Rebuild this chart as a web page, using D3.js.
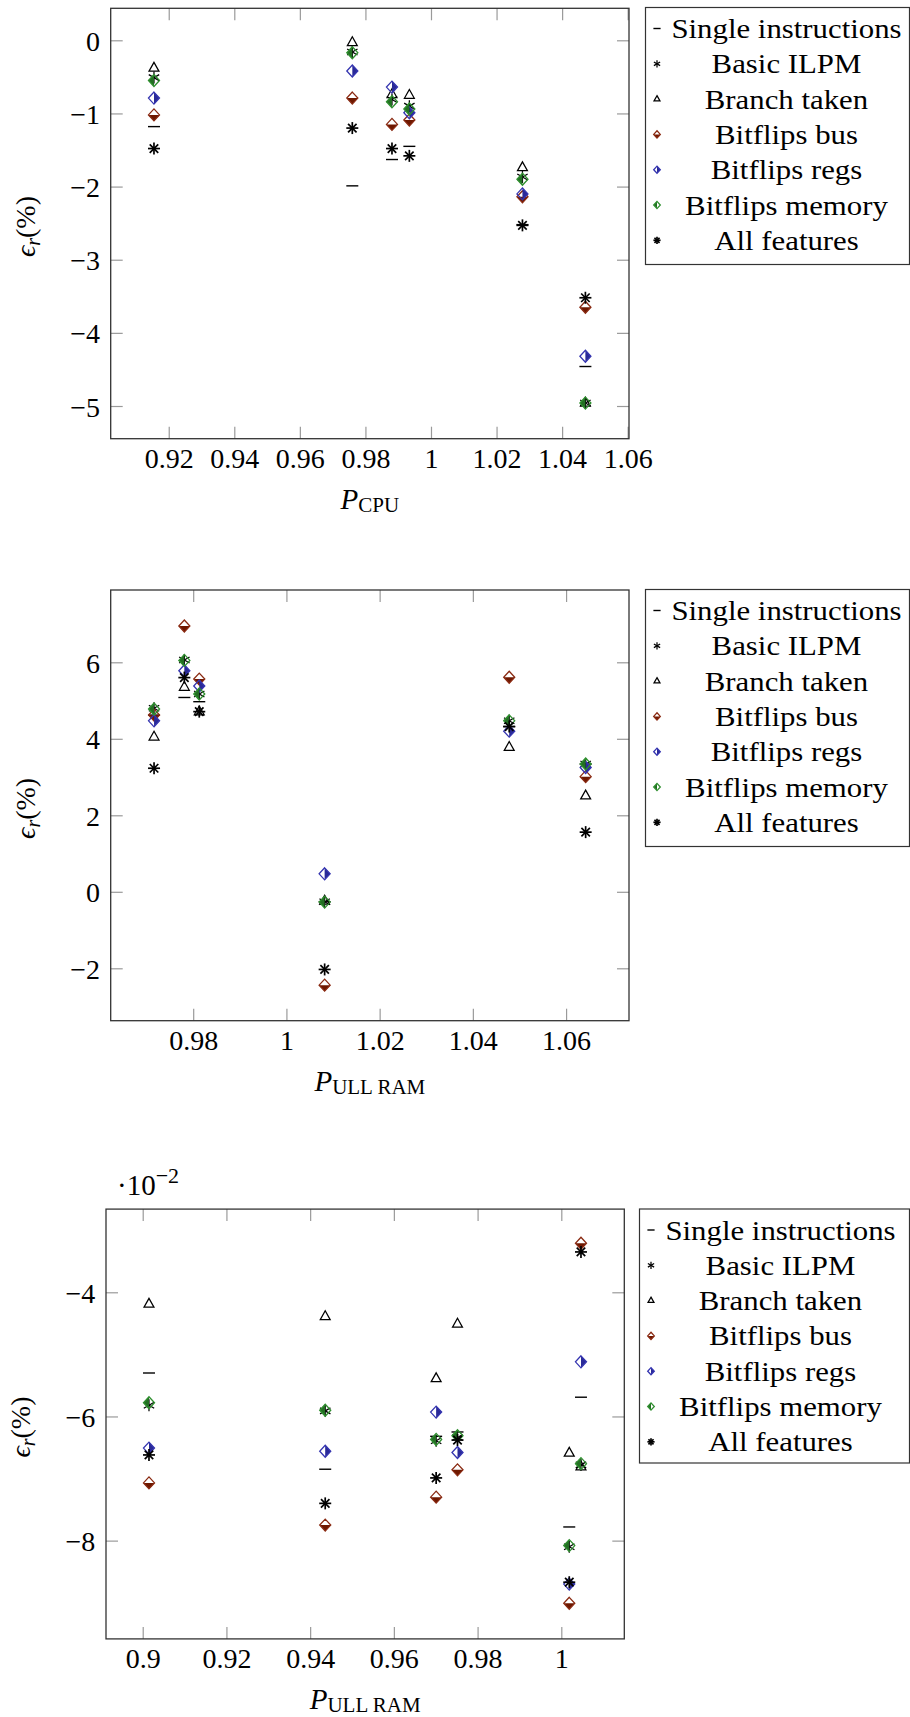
<!DOCTYPE html>
<html>
<head>
<meta charset="utf-8">
<script src="https://cdn.jsdelivr.net/npm/d3@7"></script>
<style>
  body { margin: 0; background: #fff; }
  svg { display: block; font-family: "Liberation Serif", "Times New Roman", serif; }
  text { font-family: "Liberation Serif", "Times New Roman", serif; fill: #000; }
</style>
</head>
<body>
<svg id="chart" width="910" height="1717"></svg>
<script>
// ---- series names (legend order = drawing order) ----
const seriesNames = ["Single instructions", "Basic ILPM", "Branch taken",
  "Bitflips bus", "Bitflips regs", "Bitflips memory", "All features"];

// ---- panel 1: relative error vs P_CPU (%) ----
const cpuP       = [0.9155, 0.9760, 0.9881, 0.9934, 1.0279, 1.0471];
const cpuSingle  = [-1.18, -1.99, -1.63, -1.45, -2.52, -4.46];
const cpuBasic   = [-0.51, -0.16, -0.81, -0.90, -1.87, -4.96];
const cpuBranch  = [-0.38, -0.03, -0.74, -0.75, -1.74, -4.96];
const cpuBus     = [-1.02, -0.79, -1.15, -1.09, -2.14, -3.65];
const cpuRegs    = [-0.79, -0.42, -0.64, -0.99, -2.10, -4.32];
const cpuMemory  = [-0.55, -0.17, -0.84, -0.94, -1.90, -4.96];
const cpuAll     = [-1.48, -1.20, -1.48, -1.58, -2.53, -3.52];
const cpuXTicks  = [0.92, 0.94, 0.96, 0.98, 1, 1.02, 1.04, 1.06];
const cpuYTicks  = [0, -1, -2, -3, -4, -5];

// ---- panel 2: relative error vs P_ULL RAM (%) ----
const ramP       = [0.9716, 0.9781, 0.9813, 1.0082, 1.0478, 1.0642];
const ramSingle  = [4.62, 5.08, 4.97, -0.26, 4.32, 3.34];
const ramBasic   = [4.80, 6.06, 5.17, -0.26, 4.47, 3.34];
const ramBranch  = [4.05, 5.35, 4.71, -0.24, 3.78, 2.51];
const ramBus     = [4.62, 6.95, 5.56, -2.44, 5.61, 3.01];
const ramRegs    = [4.47, 5.78, 5.38, 0.47, 4.20, 3.25];
const ramMemory  = [4.78, 6.05, 5.17, -0.27, 4.47, 3.34];
const ramAll     = [3.23, 5.60, 4.71, -2.03, 4.32, 1.56];
const ramXTicks  = [0.98, 1, 1.02, 1.04, 1.06];
const ramYTicks  = [-2, 0, 2, 4, 6];

// ---- panel 3: relative error vs P_ULL RAM, second benchmark (%) ----
const ram2P      = [0.9015, 0.9436, 0.9701, 0.9752, 1.0019, 1.0047];
const ram2Single = [-0.0530, -0.0685, -0.0632, -0.0625, -0.0778, -0.0569];
const ram2Basic  = [-0.0582, -0.0591, -0.0639, -0.0634, -0.0810, -0.0678];
const ram2Branch = [-0.0419, -0.0439, -0.0539, -0.0451, -0.0659, -0.0681];
const ram2Bus    = [-0.0707, -0.0775, -0.0730, -0.0686, -0.0901, -0.0321];
const ram2Regs   = [-0.0651, -0.0656, -0.0593, -0.0658, -0.0870, -0.0512];
const ram2Memory = [-0.0578, -0.0590, -0.0637, -0.0631, -0.0808, -0.0676];
const ram2All    = [-0.0662, -0.0740, -0.0699, -0.0638, -0.0867, -0.0335];
const ram2XTicks = [0.9, 0.92, 0.94, 0.96, 0.98, 1];
const ram2YTicks = [-0.08, -0.06, -0.04];

// ---- marker styles ----
const RED = "#8a2a12", RED_FILL = "#6e1800";
const BLUE = "#3535b0", BLUE_FILL = "#2a2a98";
const GREEN = "#2f8f2f", GREEN_FILL = "#236f23";
const markerKinds = ["dash", "asterisk", "triangle", "halfBottom", "halfRight", "halfLeft", "star"];
const SERIF = '"Liberation Serif", "Times New Roman", serif';
const WIDEN = 1.1;   // widen labels slightly toward a Computer Modern set width

const svg = d3.select("#chart");

function drawMarker(g, kind, s) {
  const r = 6 * s;
  if (kind === "dash") {
    g.append("line").attr("x1", -r).attr("x2", r).attr("y1", 0).attr("y2", 0)
      .attr("stroke", "#000").attr("stroke-width", 1.4);
  } else if (kind === "asterisk" || kind === "star") {
    const n = kind === "star" ? 4 : 3;
    for (let k = 0; k < n; k++) {
      const a = Math.PI / 2 + k * Math.PI / n;
      g.append("line")
        .attr("x1", r * Math.cos(a)).attr("y1", r * Math.sin(a))
        .attr("x2", -r * Math.cos(a)).attr("y2", -r * Math.sin(a))
        .attr("stroke", "#000").attr("stroke-width", kind === "star" ? 1.7 : 1.25);
    }
    if (kind === "star") g.append("circle").attr("r", 1.8 * s).attr("fill", "#000");
  } else if (kind === "triangle") {
    const t = r * 0.95;
    g.append("path")
      .attr("d", `M0,${-t}L${t * 0.87},${t * 0.55}L${-t * 0.87},${t * 0.55}Z`)
      .attr("fill", "none").attr("stroke", "#000").attr("stroke-width", 1.25);
  } else {
    const h = r * 1.0, w = r * 0.92;
    let col, fill, half;
    if (kind === "halfBottom") { col = RED; fill = RED_FILL; half = `M${-w},0L${w},0L0,${h}Z`; }
    if (kind === "halfRight")  { col = BLUE; fill = BLUE_FILL; half = `M0,${-h}L${w},0L0,${h}Z`; }
    if (kind === "halfLeft")   { col = GREEN; fill = GREEN_FILL; half = `M0,${-h}L${-w},0L0,${h}Z`; }
    g.append("path").attr("d", half).attr("fill", fill);
    g.append("path").attr("d", `M0,${-h}L${w},0L0,${h}L${-w},0Z`)
      .attr("fill", "none").attr("stroke", col).attr("stroke-width", 1.3);
  }
}

const fmtTick = d => String(+(+d).toFixed(4)).replace("-", "\u2212");

function widen(sel) {
  sel.each(function () {
    const w = this.getComputedTextLength();
    d3.select(this).attr("textLength", w * WIDEN).attr("lengthAdjust", "spacingAndGlyphs");
  });
}

function drawPanel(cfg, xs, seriesVals, xTicks, yTicks, yFmt) {
  const g = svg.append("g");
  const x = d3.scaleLinear().domain(cfg.xDomain).range([cfg.left, cfg.right]);
  const y = d3.scaleLinear().domain(cfg.yDomain).range([cfg.bottom, cfg.top]);
  const tickLen = 12;

  const styleAxis = sel => {
    sel.attr("font-family", null).attr("font-size", null);
    sel.select(".domain").remove();
    sel.selectAll(".tick line").attr("stroke", "#9a9a9a").attr("stroke-width", 1.2);
    sel.selectAll(".tick text").attr("fill", "#000")
      .style("font-family", SERIF).style("font-size", "28px");
  };

  // inward ticks on all four sides, labels only bottom and left
  const bottom = g.append("g").attr("transform", `translate(0,${cfg.bottom})`)
    .call(d3.axisBottom(x).tickValues(xTicks).tickSize(-tickLen).tickFormat(fmtTick));
  styleAxis(bottom);
  bottom.selectAll(".tick text").attr("y", 29.6).attr("dy", 0);

  const top = g.append("g").attr("transform", `translate(0,${cfg.top})`)
    .call(d3.axisTop(x).tickValues(xTicks).tickSize(-tickLen).tickFormat(""));
  styleAxis(top);

  const left = g.append("g").attr("transform", `translate(${cfg.left},0)`)
    .call(d3.axisLeft(y).tickValues(yTicks).tickSize(-tickLen).tickFormat(yFmt));
  styleAxis(left);
  left.selectAll(".tick text").attr("x", -10.7).attr("dy", 0).attr("y", 10).attr("text-anchor", "end");

  const right = g.append("g").attr("transform", `translate(${cfg.right},0)`)
    .call(d3.axisRight(y).tickValues(yTicks).tickSize(-tickLen).tickFormat(""));
  styleAxis(right);

  // frame
  g.append("rect").attr("x", cfg.left).attr("y", cfg.top)
    .attr("width", cfg.right - cfg.left).attr("height", cfg.bottom - cfg.top)
    .attr("fill", "none").attr("stroke", "#333").attr("stroke-width", 1.3);

  // marks, one series after the other
  seriesVals.forEach((vals, si) => {
    const sg = g.append("g").attr("class", "series");
    vals.forEach((v, i) => {
      const mg = sg.append("g").attr("transform", `translate(${x(xs[i])},${y(v)})`);
      drawMarker(mg, markerKinds[si], 1);
    });
  });

  // y label: epsilon_r (%)
  const cy = (cfg.top + cfg.bottom) / 2;
  const yl = g.append("text")
    .attr("transform", `translate(${cfg.left - 76},${cy + 3}) rotate(-90)`)
    .attr("text-anchor", "middle").style("font-size", "28px");
  yl.append("tspan").style("font-style", "italic").text("\u03F5");
  yl.append("tspan").style("font-style", "italic").style("font-size", "20px").attr("dy", 5).text("r");
  yl.append("tspan").attr("dy", -5).text("(%)");

  // x label: P with upright subscript
  const cx = (cfg.left + cfg.right) / 2;
  const xl = g.append("text").attr("x", cx).attr("y", cfg.bottom + 70)
    .attr("text-anchor", "middle").style("font-size", "29px");
  xl.append("tspan").style("font-style", "italic").text("P");
  xl.append("tspan").style("font-size", "21px").attr("dy", 3).text(cfg.sub);

  // legend
  const L = cfg.legend;
  const lg = svg.append("g");
  lg.append("rect").attr("x", L.x).attr("y", L.y).attr("width", L.w).attr("height", L.h)
    .attr("fill", "#fff").attr("stroke", "#333").attr("stroke-width", 1.2);
  seriesNames.forEach((name, i) => {
    const ry = L.y + 21 + i * 35.3;
    const mg = lg.append("g").attr("transform", `translate(${L.x + 11.5},${ry})`);
    drawMarker(mg, markerKinds[i], 0.6);
    lg.append("text").attr("x", L.x + L.textCx).attr("y", ry + 9.5)
      .attr("text-anchor", "middle").style("font-size", "28px").text(name)
      .call(widen);
  });
  return { x, y };
}

drawPanel(
  { left: 110.7, right: 629, top: 8.3, bottom: 438.7,
    xDomain: [0.9023, 1.0604], yDomain: [-5.447, 0.4375], sub: "CPU",
    legend: { x: 645.5, y: 7.5, w: 264, h: 257, textCx: 141 } },
  cpuP, [cpuSingle, cpuBasic, cpuBranch, cpuBus, cpuRegs, cpuMemory, cpuAll],
  cpuXTicks, cpuYTicks, fmtTick);

drawPanel(
  { left: 110.7, right: 629, top: 590, bottom: 1020.7,
    xDomain: [0.9623, 1.0735], yDomain: [-3.37, 7.89], sub: "ULL RAM",
    legend: { x: 645.5, y: 589.5, w: 264, h: 257, textCx: 141 } },
  ramP, [ramSingle, ramBasic, ramBranch, ramBus, ramRegs, ramMemory, ramAll],
  ramXTicks, ramYTicks, fmtTick);

drawPanel(
  { left: 106, right: 624.3, top: 1209.1, bottom: 1638.9,
    xDomain: [0.89123, 1.01505], yDomain: [-0.09583, -0.0266], sub: "ULL RAM",
    legend: { x: 639.5, y: 1209, w: 270, h: 254, textCx: 141 } },
  ram2P, [ram2Single, ram2Basic, ram2Branch, ram2Bus, ram2Regs, ram2Memory, ram2All],
  ram2XTicks, ram2YTicks, d => String(Math.round(d * 100)).replace("-", "\u2212"));

// common scale factor above the third panel
const sc = svg.append("text").attr("x", 117).attr("y", 1195).style("font-size", "29px");
sc.append("tspan").text("\u00B710");
sc.append("tspan").style("font-size", "22px").attr("dy", -12).text("\u22122");
</script>
</body>
</html>
